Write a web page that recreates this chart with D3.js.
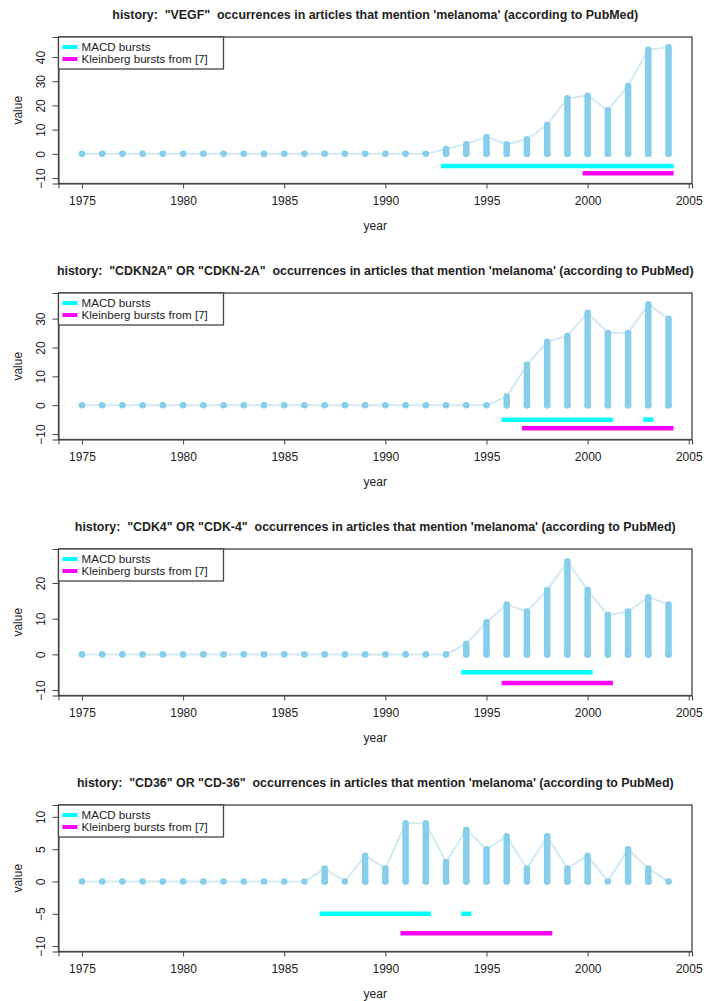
<!DOCTYPE html>
<html>
  <head>
    <title>Burst history</title>
    <script type="text/javascript" src="https://d3js.org/d3.v7.min.js"></script>
    <style>
      body { margin: 0; background: #fff; }
      text { font-family: "Liberation Sans", Arial, sans-serif; fill: #222; }
      .title { font-weight: bold; font-size: 12.4px; white-space: pre; }
      .tick text { font-size: 12px; }
      .legend text { font-size: 11.6px; }
    </style>
  </head>
  <body>
    <svg width="704" height="1001" id="chart"></svg>

    <script type="text/javascript">
      var years = [1975, 1976, 1977, 1978, 1979, 1980, 1981, 1982, 1983, 1984,
                   1985, 1986, 1987, 1988, 1989, 1990, 1991, 1992, 1993, 1994,
                   1995, 1996, 1997, 1998, 1999, 2000, 2001, 2002, 2003, 2004];

      var titles = [
        'history:  "VEGF"  occurrences in articles that mention \'melanoma\' (according to PubMed)',
        'history:  "CDKN2A" OR "CDKN-2A"  occurrences in articles that mention \'melanoma\' (according to PubMed)',
        'history:  "CDK4" OR "CDK-4"  occurrences in articles that mention \'melanoma\' (according to PubMed)',
        'history:  "CD36" OR "CD-36"  occurrences in articles that mention \'melanoma\' (according to PubMed)'
      ];

      // yearly counts, 1975..2004
      var vegf   = [0,0,0,0,0,0,0,0,0,0, 0,0,0,0,0,0,0,0,2,4, 7,4,6,12,23,24,18,28,43,44];
      var cdkn2a = [0,0,0,0,0,0,0,0,0,0, 0,0,0,0,0,0,0,0,0,0, 0,3,14,22,24,32,25,25,35,30];
      var cdk4   = [0,0,0,0,0,0,0,0,0,0, 0,0,0,0,0,0,0,0,0,3, 9,14,12,18,26,18,11,12,16,14];
      var cd36   = [0,0,0,0,0,0,0,0,0,0, 0,0,2,0,4,2,9,9,3,8, 5,7,2,7,2,4,0,5,2,0];

      // bursts as [first year, last year]
      var macdBursts = [
        [[1993, 2004]],
        [[1996, 2001], [2003, 2003]],
        [[1994, 2000]],
        [[1987, 1992], [1994, 1994]]
      ];
      var kleinbergBursts = [
        [[2000, 2004]],
        [[1997, 2004]],
        [[1996, 2001]],
        [[1991, 1998]]
      ];

      var yLims = [[-10, 46], [-10, 37], [-10, 28], [-10, 11]];
      var yTicks = [
        [-10, 0, 10, 20, 30, 40],
        [-10, 0, 10, 20, 30],
        [-10, 0, 10, 20],
        [-10, -5, 0, 5, 10]
      ];
      var xTicks = [1975, 1980, 1985, 1990, 1995, 2000, 2005];
      var legendLabels = ['MACD bursts', 'Kleinberg bursts from [7]'];
      var macdLevel = -5, kleinbergLevel = -8;

      var series = [vegf, cdkn2a, cdk4, cd36];

      var svg = d3.select('#chart');
      var left = 58.5, right = 692, boxH = 146.5;

      // R style 4% padding of the limits
      function pad(lim) {
        var p = (lim[1] - lim[0]) * 0.04;
        return [lim[0] - p, lim[1] + p];
      }

      var x = d3.scaleLinear()
                .domain(pad([years[0], years[years.length - 1]]))
                .range([left, right]);

      series.forEach(function(values, i) {
        var top = 37 + i * 256;
        var bottom = top + boxH;
        var y = d3.scaleLinear().domain(pad(yLims[i])).range([bottom, top]);
        var g = svg.append('g');
        var pts = years.map(function(yr, k) { return { year: yr, value: values[k] }; });

        g.append('text')
         .attr('class', 'title')
         .attr('x', (left + right) / 2)
         .attr('y', top - 18)
         .attr('text-anchor', 'middle')
         .text(titles[i]);

        // connecting line
        g.append('path')
         .datum(pts)
         .attr('fill', 'none')
         .attr('stroke', '#d3eaf4')
         .attr('stroke-width', 2)
         .attr('d', d3.line().x(function(d) { return x(d.year); })
                             .y(function(d) { return y(d.value); }));

        // bars
        g.selectAll('line.bar')
         .data(pts.filter(function(d) { return d.value > 0; }))
         .enter()
         .append('line')
         .attr('class', 'bar')
         .attr('x1', function(d) { return x(d.year); })
         .attr('x2', function(d) { return x(d.year); })
         .attr('y1', y(0))
         .attr('y2', function(d) { return y(d.value); })
         .attr('stroke', '#87ceeb')
         .attr('stroke-width', 6.5)
         .attr('stroke-linecap', 'round');

        g.selectAll('circle.dot')
         .data(pts)
         .enter()
         .append('circle')
         .attr('class', 'dot')
         .attr('cx', function(d) { return x(d.year); })
         .attr('cy', y(0))
         .attr('r', 3.3)
         .attr('fill', '#87ceeb');

        // bursts
        function drawBursts(list, level, color) {
          g.selectAll(null)
           .data(list)
           .enter()
           .append('line')
           .attr('x1', function(d) { return x(d[0] - 0.25); })
           .attr('x2', function(d) { return x(d[1] + 0.25); })
           .attr('y1', y(level))
           .attr('y2', y(level))
           .attr('stroke', color)
           .attr('stroke-width', 4.5);
        }
        drawBursts(macdBursts[i], macdLevel, '#00ffff');
        drawBursts(kleinbergBursts[i], kleinbergLevel, '#ff00ff');

        // axes
        var xAxis = g.append('g')
         .attr('transform', 'translate(0,' + bottom + ')')
         .call(d3.axisBottom(x).tickValues(xTicks).tickFormat(d3.format('d'))
               .tickSize(5).tickPadding(8));
        xAxis.select('.domain').attr('stroke', '#444');
        xAxis.selectAll('.tick line').attr('stroke', '#444');
        xAxis.selectAll('.tick text').attr('font-family', null).attr('font-size', null);

        var yAxis = g.append('g')
         .attr('transform', 'translate(' + left + ',0)')
         .call(d3.axisLeft(y).tickValues(yTicks[i]).tickFormat(function(d) {
                 return d < 0 ? '\u2212' + Math.abs(d) : d;
               }).tickSize(6).tickPadding(4));
        yAxis.select('.domain').attr('stroke', '#444');
        yAxis.selectAll('.tick line').attr('stroke', '#444');
        yAxis.selectAll('.tick text')
             .attr('font-family', null).attr('font-size', null)
             .attr('x', 0).attr('dy', null)
             .attr('text-anchor', 'middle')
             .attr('transform', 'translate(-14,0) rotate(-90)')
             .attr('y', 0);

        // box
        g.append('rect')
         .attr('x', left).attr('y', top)
         .attr('width', right - left).attr('height', boxH)
         .attr('fill', 'none')
         .attr('stroke', '#444')
         .attr('stroke-width', 1.3);

        g.append('text')
         .attr('x', (left + right) / 2)
         .attr('y', bottom + 46)
         .attr('text-anchor', 'middle')
         .attr('font-size', 12)
         .text('year');

        g.append('text')
         .attr('transform', 'translate(22,' + (top + boxH / 2) + ') rotate(-90)')
         .attr('text-anchor', 'middle')
         .attr('font-size', 12)
         .text('value');

        // legend
        var lg = g.append('g').attr('class', 'legend');
        lg.append('rect')
          .attr('x', left).attr('y', top)
          .attr('width', 165).attr('height', 32)
          .attr('fill', '#fff')
          .attr('stroke', '#444')
          .attr('stroke-width', 1.3);
        var legendColors = ['#00ffff', '#ff00ff'];
        legendLabels.forEach(function(lab, k) {
          var ly = top + 10 + k * 12;
          lg.append('line')
            .attr('x1', left + 4).attr('x2', left + 19)
            .attr('y1', ly).attr('y2', ly)
            .attr('stroke', legendColors[k])
            .attr('stroke-width', 4);
          lg.append('text')
            .attr('x', left + 23).attr('y', ly + 4)
            .text(lab);
        });
      });
    </script>
  </body>
</html>
